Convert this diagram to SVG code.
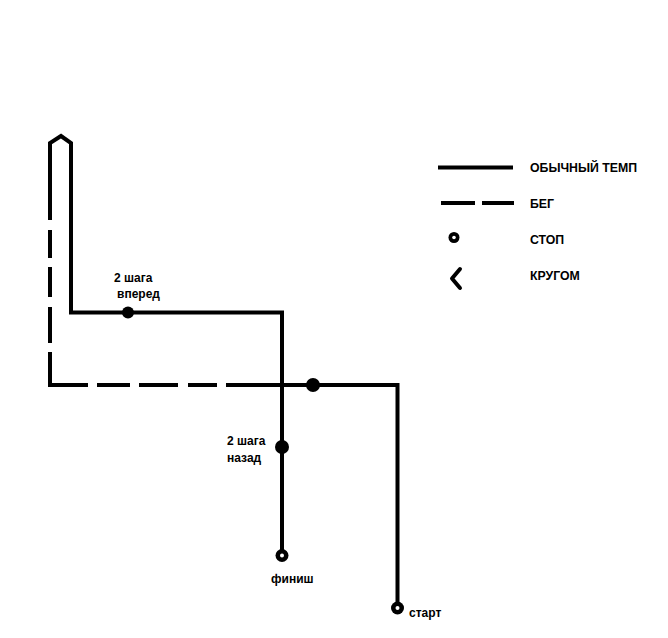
<svg xmlns="http://www.w3.org/2000/svg" width="668" height="638" viewBox="0 0 668 638">
<style>
.ln{fill:none;stroke:#000;stroke-width:4;stroke-linejoin:miter;stroke-linecap:butt}
.dot{fill:#000}
.stop{fill:#000}
.hole{fill:#fff}
.t{font-family:"Liberation Sans",Arial,sans-serif;font-weight:bold;font-size:12px;fill:#000}
.lg{font-family:"Liberation Sans",Arial,sans-serif;font-weight:bold;font-size:12.3px;fill:#000}
</style>
<rect width="668" height="638" fill="#fff"/>
<g id="connectors">
<path class="ln" d="M50,220 L50,143 L61,136 L71,143 L71,312.5 L282,312.5 L282,555"/>
<path class="ln" d="M50,230 L50,258"/>
<path class="ln" d="M50,267 L50,297"/>
<path class="ln" d="M50,307 L50,343"/>
<path class="ln" d="M50,352 L50,385 L88,385"/>
<path class="ln" d="M97,385 L130,385"/>
<path class="ln" d="M139,385 L178,385"/>
<path class="ln" d="M188,385 L217,385"/>
<path class="ln" d="M226,385 L397.5,385 L397.5,608"/>
</g>
<g id="node-forward">
<circle class="dot" cx="128" cy="312.5" r="6"/>
<text class="t" x="114" y="282">2 шага</text>
<text class="t" x="117" y="298">вперед</text>
</g>
<g id="node-back">
<circle class="dot" cx="282" cy="447" r="7"/>
<text class="t" x="227" y="445">2 шага</text>
<text class="t" x="227" y="462">назад</text>
</g>
<g id="node-turn">
<circle class="dot" cx="313" cy="385" r="7"/>
</g>
<g id="node-finish">
<circle class="stop" cx="282" cy="555.5" r="6.5"/>
<circle class="hole" cx="282" cy="555.5" r="2"/>
<text class="t" x="271" y="583">финиш</text>
</g>
<g id="node-start">
<circle class="stop" cx="397.5" cy="608" r="6.5"/>
<circle class="hole" cx="397.5" cy="608" r="2"/>
<text class="t" x="409" y="617">старт</text>
</g>
<g id="legend">
<line class="ln" x1="438" y1="167.5" x2="513" y2="167.5"/>
<text class="lg" x="530" y="172">ОБЫЧНЫЙ ТЕМП</text>
<line class="ln" x1="441" y1="203" x2="475" y2="203"/>
<line class="ln" x1="482" y1="203" x2="514" y2="203"/>
<text class="lg" x="530" y="207.5">БЕГ</text>
<circle class="stop" cx="454" cy="237.5" r="5.5"/>
<circle class="hole" cx="454" cy="237.5" r="1.8"/>
<text class="lg" x="530" y="243.5">СТОП</text>
<path d="M460,269 L452,278.5 L460,288" fill="none" stroke="#000" stroke-width="4" stroke-linecap="round" stroke-linejoin="round"/>
<text class="lg" x="530" y="279.5">КРУГОМ</text>
</g>
</svg>
